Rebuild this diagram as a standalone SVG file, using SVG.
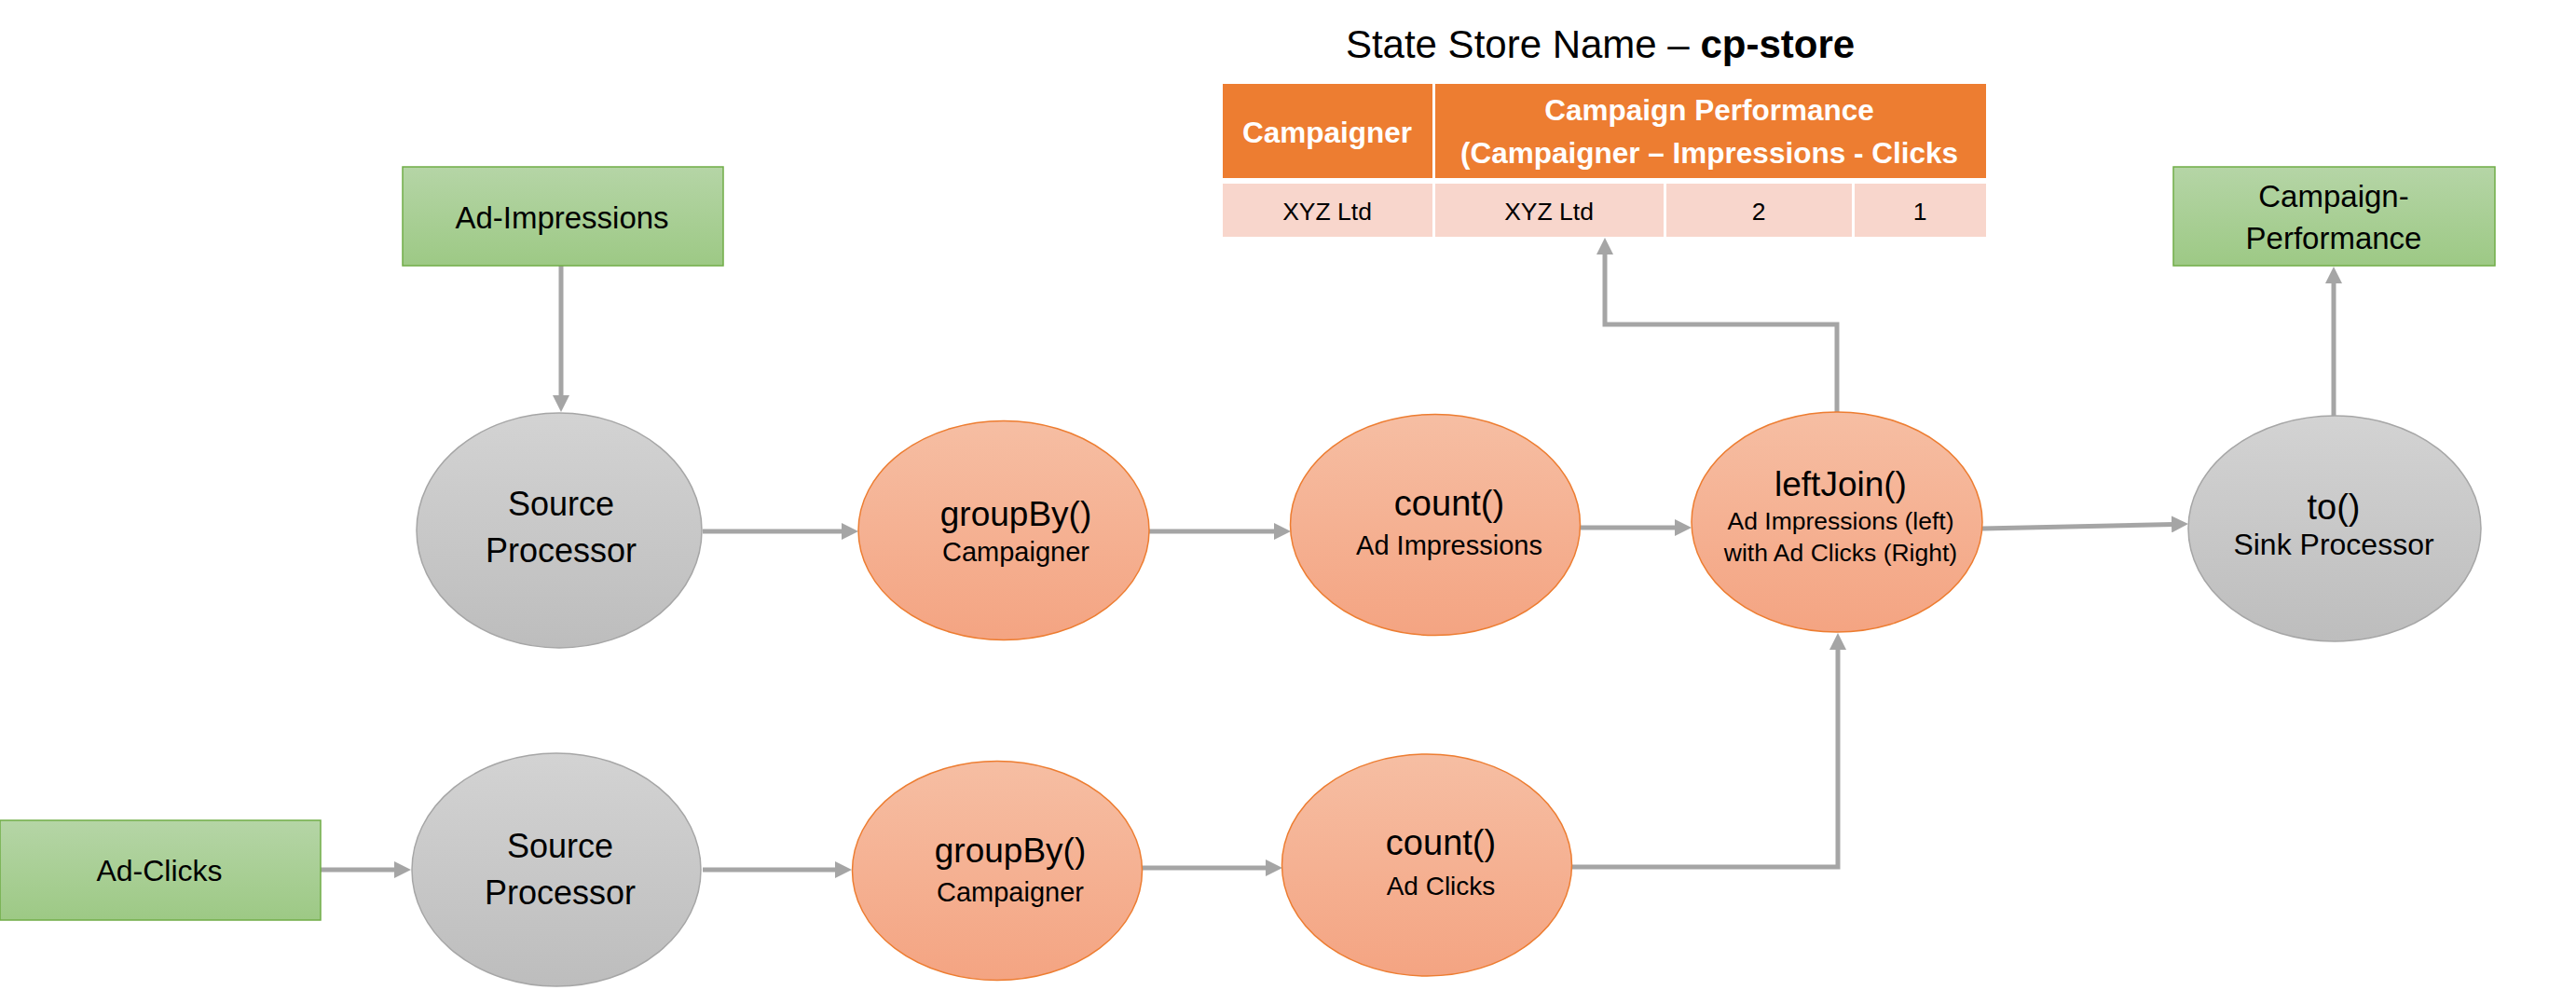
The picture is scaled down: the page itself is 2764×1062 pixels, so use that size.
<svg xmlns="http://www.w3.org/2000/svg" width="2764" height="1062" viewBox="0 0 2764 1062">
<style>
text{font-family:"Liberation Sans",Arial,sans-serif;fill:#000;text-anchor:middle}
.conn{fill:none;stroke:#A5A5A5;stroke-width:5;stroke-linejoin:miter}
.arr{marker-end:url(#ah)}
.gray{fill:url(#gGray);stroke:#A6A6A6;stroke-width:1.5}
.org{fill:url(#gOrg);stroke:#ED7D31;stroke-width:1.5}
.box{fill:url(#gGreen);stroke:#70AD47;stroke-width:1.5}
.t1{font-size:37px}
.t2{font-size:29px}
.tb{font-size:33px}
.hd{fill:#fff;font-weight:bold;font-size:31.5px}
.cell{font-size:26.5px}
</style>
<defs>
<linearGradient id="gGray" x1="0" y1="0" x2="0" y2="1"><stop offset="0" stop-color="#D3D3D3"/><stop offset="1" stop-color="#BDBDBD"/></linearGradient>
<linearGradient id="gOrg" x1="0" y1="0" x2="0" y2="1"><stop offset="0" stop-color="#F6BEA3"/><stop offset="1" stop-color="#F4A482"/></linearGradient>
<linearGradient id="gGreen" x1="0" y1="0" x2="0" y2="1"><stop offset="0" stop-color="#B5D5A6"/><stop offset="1" stop-color="#9DC985"/></linearGradient>
<marker id="ah" markerUnits="userSpaceOnUse" markerWidth="18" markerHeight="18" viewBox="0 0 18 18" refX="2" refY="9" orient="auto"><path d="M0,0 L18,9 L0,18 z" fill="#A5A5A5"/></marker>
</defs>
<rect width="2764" height="1062" fill="#fff"/>

<g id="title">
<text x="1717" y="62" font-size="42">State Store Name – <tspan font-weight="bold">cp-store</tspan></text>
</g>

<g id="state-store-table">
<rect x="1312" y="90" width="225" height="101" fill="#ED7D31"/>
<rect x="1540" y="90" width="591" height="101" fill="#ED7D31"/>
<rect x="1312" y="197" width="225" height="57" fill="#F8D6CC"/>
<rect x="1540" y="197" width="245" height="57" fill="#F8D6CC"/>
<rect x="1788" y="197" width="199" height="57" fill="#F8D6CC"/>
<rect x="1990" y="197" width="141" height="57" fill="#F8D6CC"/>
<text class="hd" x="1424" y="153">Campaigner</text>
<text class="hd" x="1834" y="129">Campaign Performance</text>
<text class="hd" x="1834" y="175">(Campaigner – Impressions - Clicks</text>
<text class="cell" x="1424" y="236">XYZ Ltd</text>
<text class="cell" x="1662" y="236">XYZ Ltd</text>
<text class="cell" x="1887" y="236">2</text>
<text class="cell" x="2060" y="236">1</text>
</g>

<g id="connectors">
<path class="conn arr" d="M602,285 V426"/>
<path class="conn arr" d="M754,570 H905"/>
<path class="conn arr" d="M1233,570 H1369"/>
<path class="conn arr" d="M1696,566 H1799"/>
<path class="conn arr" d="M2127,567 L2332,562.4"/>
<path class="conn arr" d="M2504,447 V302"/>
<path class="conn arr" d="M1971,442 V348 H1722 V271"/>
<path class="conn arr" d="M344,933 H425"/>
<path class="conn arr" d="M754,933 H898"/>
<path class="conn arr" d="M1225,931 H1360"/>
<path class="conn arr" d="M1687,930 H1972 V695"/>
</g>

<g id="ad-impressions">
<rect class="box" x="432" y="179" width="344" height="106"/>
<text class="tb" x="603" y="245">Ad-Impressions</text>
</g>

<g id="campaign-performance">
<rect class="box" x="2332" y="179" width="345" height="106"/>
<text class="tb" x="2504" y="222">Campaign-</text>
<text class="tb" x="2504" y="267">Performance</text>
</g>

<g id="ad-clicks">
<rect class="box" x="0" y="880" width="344" height="107"/>
<text x="171" y="945" font-size="32">Ad-Clicks</text>
</g>

<g id="source-processor-1">
<ellipse class="gray" cx="600" cy="569" rx="153" ry="126"/>
<text x="602" y="553" font-size="36">Source</text>
<text x="602" y="603" font-size="36">Processor</text>
</g>

<g id="groupby-1">
<ellipse class="org" cx="1077" cy="569" rx="156" ry="117.5"/>
<text class="t1" x="1090" y="564">groupBy()</text>
<text class="t2" x="1090" y="602">Campaigner</text>
</g>

<g id="count-1">
<ellipse class="org" cx="1540" cy="563" rx="155.5" ry="118.5"/>
<text x="1555" y="553" font-size="38">count()</text>
<text class="t2" x="1555" y="595">Ad Impressions</text>
</g>

<g id="leftjoin">
<ellipse class="org" cx="1971" cy="560" rx="156" ry="118"/>
<text class="t1" x="1975" y="532">leftJoin()</text>
<text x="1975" y="568" font-size="26.5">Ad Impressions (left)</text>
<text x="1975" y="602" font-size="26.5">with Ad Clicks (Right)</text>
</g>

<g id="sink-processor">
<ellipse class="gray" cx="2505" cy="567" rx="157" ry="121"/>
<text x="2504" y="557" font-size="38">to()</text>
<text x="2504" y="595" font-size="32">Sink Processor</text>
</g>

<g id="source-processor-2">
<ellipse class="gray" cx="597" cy="933" rx="155" ry="125"/>
<text x="601" y="920" font-size="36">Source</text>
<text x="601" y="970" font-size="36">Processor</text>
</g>

<g id="groupby-2">
<ellipse class="org" cx="1070" cy="934" rx="155.5" ry="117.5"/>
<text class="t1" x="1084" y="925">groupBy()</text>
<text class="t2" x="1084" y="967">Campaigner</text>
</g>

<g id="count-2">
<ellipse class="org" cx="1531" cy="928" rx="155.5" ry="119"/>
<text x="1546" y="917" font-size="38">count()</text>
<text x="1546" y="960" font-size="28">Ad Clicks</text>
</g>
</svg>
